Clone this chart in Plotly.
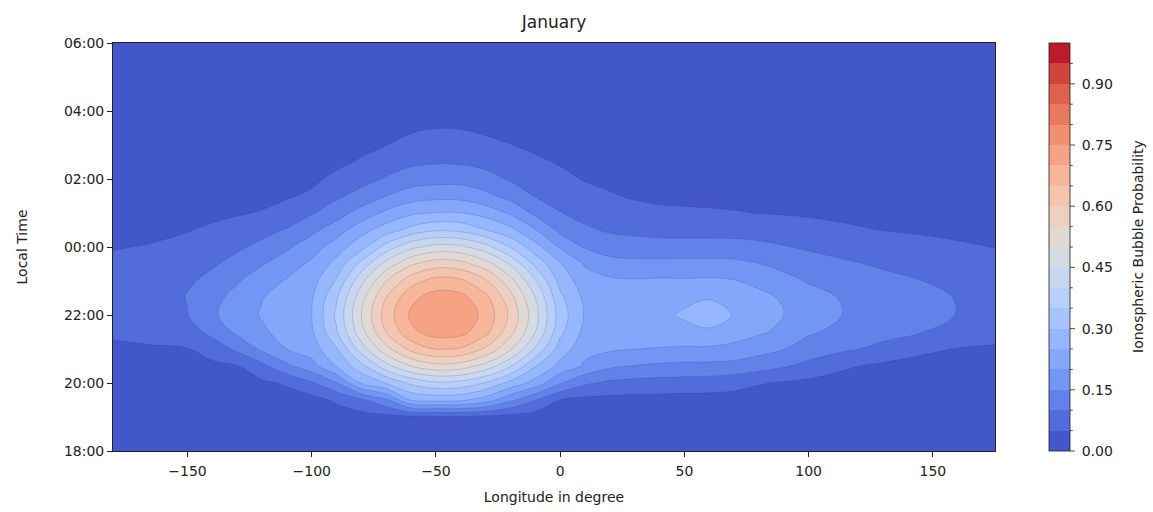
import numpy as np
import plotly.graph_objects as go

# Longitude of each grid column (degrees) and local time of each grid row (hours, 24+ = after midnight)
lon = [-180, -165, -150, -140, -130, -120, -110, -100, -90, -80, -70, -60, -50, -40, -30, -20, -10,
       0, 10, 20, 30, 40, 50, 60, 70, 80, 90, 100, 115, 130, 145, 160, 175]
local_time = [18, 19, 19.5, 20, 20.5, 21, 21.5, 22, 22.5, 23, 23.5, 24, 24.5, 25, 25.5, 26, 26.5, 27, 27.5, 28, 30]

# Bubble probability, one list per longitude column (values follow local_time)
prob_by_lon = [
    [0, .001, .004, .01, .021, .039, .06, .078, .085, .079, .065, .046, .028, .015, .007, .003, .001, 0, 0, 0, 0],
    [0, .002, .005, .012, .025, .044, .067, .086, .093, .088, .074, .054, .035, .019, .009, .004, .002, .001, 0, 0, 0],
    [.001, .004, .009, .018, .032, .048, .075, .099, .101, .092, .079, .063, .048, .033, .02, .011, .005, .002, .001, 0, 0],
    [.002, .008, .016, .028, .04, .071, .115, .144, .137, .115, .094, .076, .057, .04, .027, .016, .009, .004, .002, .001, 0],
    [.003, .012, .022, .035, .048, .11, .16, .17, .165, .146, .117, .092, .068, .046, .032, .02, .011, .005, .003, .001, 0],
    [.004, .015, .025, .04, .088, .16, .19, .205, .198, .175, .147, .113, .084, .053, .037, .025, .015, .008, .004, .002, 0],
    [.004, .016, .028, .057, .14, .2, .222, .23, .225, .205, .175, .142, .104, .07, .045, .03, .019, .01, .005, .002, 0],
    [.005, .018, .032, .093, .181, .225, .243, .25, .245, .23, .21, .177, .138, .096, .058, .04, .026, .015, .008, .004, 0],
    [.003, .025, .058, .146, .253, .295, .345, .359, .345, .306, .266, .225, .175, .129, .091, .062, .038, .022, .012, .006, 0],
    [.004, .03, .091, .254, .333, .426, .483, .5, .483, .438, .366, .284, .231, .169, .118, .083, .056, .036, .022, .012, .001],
    [.004, .035, .142, .303, .433, .534, .602, .623, .602, .549, .471, .371, .274, .211, .15, .105, .076, .049, .033, .02, .002],
    [.004, .038, .252, .361, .501, .615, .689, .709, .689, .631, .543, .438, .317, .241, .176, .126, .09, .065, .043, .027, .003],
    [.005, .04, .263, .39, .534, .653, .722, .734, .722, .67, .578, .468, .343, .252, .185, .131, .096, .072, .049, .032, .004],
    [.005, .04, .26, .383, .526, .645, .716, .731, .716, .661, .569, .461, .336, .251, .183, .132, .094, .071, .048, .031, .004],
    [.005, .035, .225, .345, .481, .592, .665, .686, .665, .608, .522, .419, .301, .23, .163, .117, .086, .062, .04, .025, .003],
    [.004, .03, .16, .284, .405, .505, .568, .589, .568, .518, .444, .346, .263, .193, .133, .095, .073, .051, .034, .021, .003],
    [.004, .025, .102, .23, .303, .391, .45, .466, .45, .404, .337, .269, .202, .138, .098, .078, .058, .04, .027, .017, .002],
    [.003, .02, .049, .155, .234, .277, .312, .326, .312, .282, .253, .194, .138, .102, .081, .062, .046, .033, .022, .014, .002],
    [.003, .015, .038, .108, .192, .215, .235, .245, .238, .222, .195, .146, .108, .085, .065, .047, .034, .024, .016, .01, .001],
    [.003, .014, .035, .09, .159, .207, .222, .228, .224, .21, .168, .127, .094, .074, .054, .04, .028, .019, .013, .008, .001],
    [.003, .013, .034, .084, .148, .201, .218, .222, .22, .205, .164, .121, .089, .066, .045, .032, .022, .015, .01, .006, .001],
    [.003, .013, .033, .081, .141, .197, .228, .235, .23, .208, .164, .118, .085, .06, .04, .028, .019, .013, .009, .005, .001],
    [.003, .012, .032, .078, .138, .194, .233, .258, .236, .206, .165, .118, .084, .058, .038, .026, .018, .012, .008, .005, .001],
    [.003, .012, .031, .076, .136, .193, .239, .284, .246, .209, .166, .119, .083, .056, .036, .025, .017, .011, .007, .004, .001],
    [.003, .011, .028, .069, .132, .187, .221, .246, .234, .203, .163, .118, .082, .053, .035, .024, .016, .011, .007, .004, .001],
    [.002, .01, .024, .054, .12, .169, .207, .225, .216, .186, .151, .112, .079, .049, .033, .022, .015, .01, .006, .004, .001],
    [.002, .009, .02, .045, .105, .151, .187, .201, .193, .165, .137, .103, .074, .047, .031, .02, .014, .009, .006, .003, .001],
    [.002, .008, .018, .038, .086, .127, .157, .175, .17, .146, .12, .094, .067, .044, .029, .019, .013, .008, .005, .003, .001],
    [.002, .007, .015, .03, .056, .107, .133, .147, .144, .128, .106, .083, .058, .038, .025, .016, .011, .007, .004, .002, 0],
    [.001, .006, .012, .024, .04, .088, .115, .128, .126, .112, .094, .072, .049, .032, .021, .014, .009, .006, .004, .002, 0],
    [.001, .004, .009, .019, .034, .06, .102, .112, .113, .101, .082, .063, .045, .03, .019, .012, .008, .005, .003, .002, 0],
    [.001, .004, .008, .016, .03, .048, .083, .099, .098, .088, .074, .056, .04, .026, .016, .01, .006, .004, .002, .001, 0],
    [.001, .003, .007, .014, .027, .044, .07, .085, .087, .08, .068, .049, .034, .021, .013, .008, .005, .003, .002, .001, 0],
]

time_ticks = [18, 20, 22, 24, 26, 28, 30]
time_labels = ["18:00", "20:00", "22:00", "00:00", "02:00", "04:00", "06:00"]
lon_ticks = [-150, -100, -50, 0, 50, 100, 150]
cbar_ticks = [0.0, 0.15, 0.30, 0.45, 0.60, 0.75, 0.90]

# rows = local time, columns = longitude
z = np.array(prob_by_lon).T

# coolwarm colormap control points (position, r, g, b)
cw_pos = np.linspace(0, 1, 17)
cw_rgb = np.array([
    [.2298, .2987, .7537], [.3039, .4065, .8450], [.3830, .5094, .9174], [.4667, .6046, .9682],
    [.5530, .6889, .9954], [.6392, .7596, .9982], [.7222, .8140, .9766], [.7987, .8498, .9317],
    [.8654, .8654, .8653], [.9241, .8274, .7745], [.9589, .7698, .6780], [.9700, .6943, .5794],
    [.9580, .6028, .4818], [.9239, .4973, .3880], [.8692, .3783, .3003], [.7956, .2413, .2205],
    [.7057, .0156, .1502],
])

step = 0.05
n_bands = 20
mids = (np.arange(n_bands) + 0.5) * step


def cw(v):
    r, g, b = (np.interp(v, cw_pos, cw_rgb[:, i]) for i in range(3))
    return "rgb(%d,%d,%d)" % (round(r * 255), round(g * 255), round(b * 255))


band_colors = [cw(m) for m in mids]

# contour fill colour scale: band k sits at position k/19
fill_scale = [[k / (n_bands - 1), c] for k, c in enumerate(band_colors)]
# stepped scale for the colour bar (0..1)
bar_scale = []
for k, c in enumerate(band_colors):
    bar_scale.append([k / n_bands, c])
    bar_scale.append([(k + 1) / n_bands, c])

W, H = 1153, 512
ml, mr, mt, mb = 113, 158, 43, 61
pw = W - ml - mr
font = "DejaVu Sans"
ink = "#222"

fig = go.Figure()
fig.add_trace(go.Contour(
    x=lon, y=local_time, z=z,
    autocontour=False,
    contours=dict(start=0.05, end=0.95, size=step, coloring="fill"),
    colorscale=fill_scale,
    line=dict(color="rgba(50,30,90,0.35)", width=0.5, smoothing=1.1),
    showscale=False,
    hoverinfo="skip",
))

cb_left = 1049
cb_th = 21
fig.add_trace(go.Scatter(
    x=[None], y=[None], mode="markers",
    marker=dict(
        color=[0.5], colorscale=bar_scale, cmin=0, cmax=1, showscale=True,
        colorbar=dict(
            x=(cb_left - ml) / pw, xanchor="left", xpad=0, y=0.5, yanchor="middle", ypad=0,
            len=1, lenmode="fraction", thickness=cb_th, thicknessmode="pixels",
            outlinewidth=0.8, outlinecolor=ink,
            tickvals=cbar_ticks, ticktext=["%.2f" % v for v in cbar_ticks],
            ticks="outside", ticklen=9, tickwidth=0.8, tickcolor="rgba(0,0,0,0)",
            tickfont=dict(family=font, size=14, color=ink),
        ),
    ),
    showlegend=False, hoverinfo="skip",
))

# colour bar tick marks: major at labelled values, minor every 0.05
x_edge = (cb_left + cb_th - ml) / pw
shapes = []
for k in range(0, n_bands):
    v = k * step
    length = 5 if k % 3 == 0 else 2.8
    shapes.append(dict(type="line", xref="paper", yref="paper",
                       x0=x_edge, x1=x_edge + length / pw, y0=v, y1=v,
                       line=dict(color=ink, width=0.8)))

annotations = [dict(text="Ionospheric Bubble Probability", xref="paper", yref="paper",
                    x=(1138 - ml) / pw, y=0.5, xanchor="center", yanchor="middle",
                    textangle=-90, showarrow=False,
                    font=dict(family=font, size=14, color=ink))]

axis_common = dict(
    showgrid=False, zeroline=False, showline=True, mirror=True, automargin=False,
    linecolor=ink, linewidth=0.9, ticks="outside", ticklen=5, tickwidth=0.8,
    tickcolor=ink, tickfont=dict(family=font, size=14, color=ink),
)

fig.update_layout(
    width=W, height=H,
    margin=dict(l=ml, r=mr, t=mt, b=mb, pad=0, autoexpand=False),
    paper_bgcolor="white", plot_bgcolor="white",
    title=dict(text="January", x=(ml + pw / 2) / W, xanchor="center", y=1 - 22 / H, yanchor="middle",
               font=dict(family=font, size=17, color=ink)),
    xaxis=dict(range=[-180, 175], tickvals=lon_ticks, ticklabelstandoff=2,
               title=dict(text="Longitude in degree", font=dict(family=font, size=14, color=ink), standoff=14),
               **axis_common),
    yaxis=dict(range=[18, 30], tickvals=time_ticks, ticktext=time_labels,
               title=dict(text="Local Time", font=dict(family=font, size=14, color=ink), standoff=32),
               **axis_common),
    shapes=shapes,
    annotations=annotations,
)

fig.write_html("out.html")
